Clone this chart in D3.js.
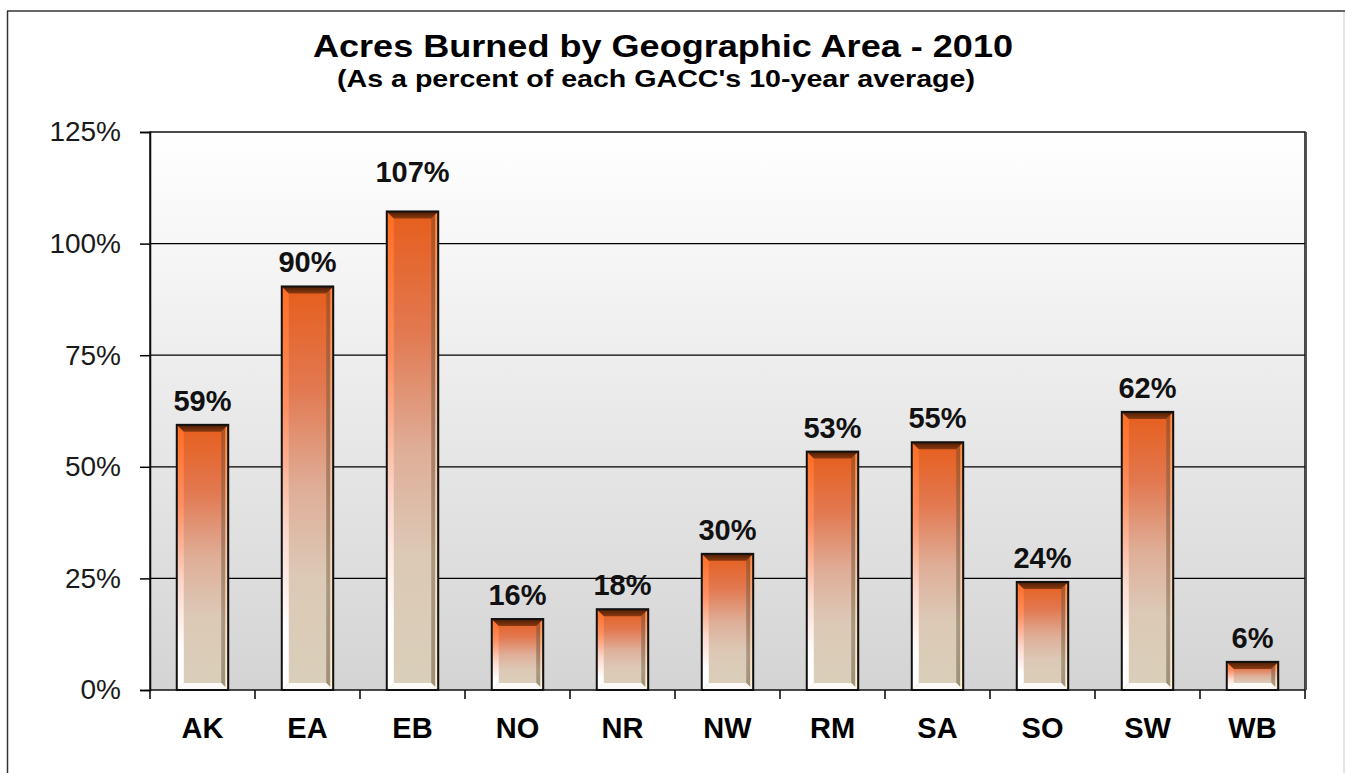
<!DOCTYPE html>
<html><head><meta charset="utf-8">
<script src="https://cdn.jsdelivr.net/npm/d3@7"></script>
<style>
html,body{margin:0;padding:0;background:#fff;}
svg{display:block;}
text{font-family:"Liberation Sans",Arial,sans-serif;}
</style></head>
<body>
<svg id="chart" width="1345" height="773"></svg>
<script>
const categories = ["AK","EA","EB","NO","NR","NW","RM","SA","SO","SW","WB"];
const values = [59.4, 90.4, 107.2, 15.9, 18.1, 30.5, 53.4, 55.5, 24.2, 62.3, 6.3];
const valueLabels = ["59%","90%","107%","16%","18%","30%","53%","55%","24%","62%","6%"];
const yTicks = [0, 25, 50, 75, 100, 125];
const titleText = "Acres Burned by Geographic Area - 2010";
const subtitleText = "(As a percent of each GACC's 10-year average)";

const svg = d3.select("#chart");
const W = 1345, H = 773;
const plot = {left:150, right:1305, top:132, bottom:690};
const FONT = "'Liberation Sans',Arial,sans-serif";

const defs = svg.append("defs");
const bg = defs.append("linearGradient").attr("id","bg").attr("x1",0).attr("y1",0).attr("x2",0).attr("y2",1);
bg.append("stop").attr("offset","0%").attr("stop-color","#ffffff");
bg.append("stop").attr("offset","100%").attr("stop-color","#d4d4d4");

const face = defs.append("linearGradient").attr("id","face").attr("x1",0).attr("y1",0).attr("x2",0).attr("y2",1);
[["0%","#e65e1c"],["25%","#e27850"],["50%","#dfae98"],["72%","#dcc9b6"],["100%","#d9cfba"]]
  .forEach(([o,c])=>face.append("stop").attr("offset",o).attr("stop-color",c));
const leftG = defs.append("linearGradient").attr("id","leftB").attr("x1",0).attr("y1",0).attr("x2",0).attr("y2",1);
[["0%","#ff6d22"],["30%","#ff8e60"],["60%","#fbd8cc"],["85%","#ffffff"],["100%","#ffffff"]]
  .forEach(([o,c])=>leftG.append("stop").attr("offset",o).attr("stop-color",c));
const rightG = defs.append("linearGradient").attr("id","rightB").attr("x1",0).attr("y1",0).attr("x2",0).attr("y2",1);
[["0%","#b0501e"],["40%","#a87860"],["75%","#a89a82"],["100%","#9e9078"]]
  .forEach(([o,c])=>rightG.append("stop").attr("offset",o).attr("stop-color",c));
const edgeG = defs.append("linearGradient").attr("id","edgeB").attr("x1",0).attr("y1",0).attr("x2",0).attr("y2",1);
[["0%","#ff8a40"],["50%","#f8c8a8"],["100%","#fff4d8"]]
  .forEach(([o,c])=>edgeG.append("stop").attr("offset",o).attr("stop-color",c));
const topG = defs.append("linearGradient").attr("id","topB").attr("x1",0).attr("y1",0).attr("x2",0).attr("y2",1);
topG.append("stop").attr("offset","0%").attr("stop-color","#4a1c05");
topG.append("stop").attr("offset","100%").attr("stop-color","#8a3a10");

// outer frame
svg.append("line").attr("x1",7.5).attr("y1",11).attr("x2",7.5).attr("y2",H).attr("stroke","#333").attr("stroke-width",1.5);
svg.append("line").attr("x1",7).attr("y1",11).attr("x2",W).attr("y2",11).attr("stroke","#333").attr("stroke-width",1.5);
svg.append("line").attr("x1",1344).attr("y1",12).attr("x2",1344).attr("y2",H).attr("stroke","#c8c8c8").attr("stroke-width",1);

// title
svg.append("text").attr("x",663).attr("y",57).attr("text-anchor","middle")
  .attr("font-size",32).attr("font-weight","bold").attr("fill","#000")
  .attr("textLength",700).attr("lengthAdjust","spacingAndGlyphs").text(titleText);
svg.append("text").attr("x",656).attr("y",87).attr("text-anchor","middle")
  .attr("font-size",24).attr("font-weight","bold").attr("fill","#000")
  .attr("textLength",638).attr("lengthAdjust","spacingAndGlyphs").text(subtitleText);

const x = d3.scaleBand().domain(categories).range([plot.left, plot.right]).paddingInner(0).paddingOuter(0);
const y = d3.scaleLinear().domain([0,125]).range([plot.bottom, plot.top]);

// background
svg.append("rect").attr("x",plot.left).attr("y",plot.top).attr("width",plot.right-plot.left)
  .attr("height",plot.bottom-plot.top).attr("fill","url(#bg)");

// gridlines
svg.append("g").selectAll("line").data(yTicks.filter(t=>t>0 && t<125)).join("line")
  .attr("x1",plot.left).attr("x2",plot.right).attr("y1",d=>y(d)).attr("y2",d=>y(d))
  .attr("stroke","#000").attr("stroke-width",1.2);

// y axis
const yAxis = svg.append("g").attr("transform",`translate(${plot.left},0)`)
  .call(d3.axisLeft(y).tickValues(yTicks).tickFormat(d=>d+"%").tickSize(10).tickPadding(19));
yAxis.select(".domain").attr("stroke","#000").attr("stroke-width",1.5);
yAxis.selectAll(".tick line").attr("stroke","#000").attr("stroke-width",1.5);
yAxis.selectAll(".tick text").attr("font-size",28).attr("fill","#1a1a1a").attr("font-family",FONT);

// x axis
const xAxis = svg.append("g").attr("transform",`translate(0,${plot.bottom})`)
  .call(d3.axisBottom(x).tickSize(0).tickPadding(27));
xAxis.select(".domain").remove();
xAxis.selectAll(".tick text").attr("font-size",29).attr("font-weight","bold").attr("fill","#000")
  .attr("font-family",FONT);
const bounds = categories.map(c=>x(c)).concat([plot.right]);
svg.append("g").selectAll("line").data(bounds).join("line")
  .attr("x1",d=>d).attr("x2",d=>d).attr("y1",plot.bottom).attr("y2",plot.bottom+9)
  .attr("stroke","#000").attr("stroke-width",1.5);

// bars
const bw = x.bandwidth()*0.49;
const bev = 7;
const bars = svg.append("g").selectAll("g").data(categories.map((c,i)=>({c, v:values[i], l:valueLabels[i]}))).join("g");
bars.each(function(d){
  const g = d3.select(this);
  const x0 = x(d.c) + (x.bandwidth()-bw)/2, x1 = x0 + bw;
  const y0 = y(d.v), y1 = y(0);
  const b = Math.min(bev, (y1-y0)/3);
  g.append("rect").attr("x",x0).attr("y",y0).attr("width",bw).attr("height",y1-y0).attr("fill","url(#face)");
  g.append("polygon").attr("points",[[x0,y0],[x0+bev,y0+b],[x0+bev,y1-b],[x0,y1]].join(" ")).attr("fill","url(#leftB)");
  g.append("polygon").attr("points",[[x1,y0],[x1-bev,y0+b],[x1-bev,y1-b],[x1,y1]].join(" ")).attr("fill","url(#rightB)");
  g.append("rect").attr("x",x1-3).attr("y",y0+2).attr("width",2).attr("height",Math.max(0,y1-y0-4)).attr("fill","url(#edgeB)");
  g.append("polygon").attr("points",[[x0,y0],[x1,y0],[x1-bev,y0+b],[x0+bev,y0+b]].join(" ")).attr("fill","url(#topB)");
  g.append("polygon").attr("points",[[x0,y1],[x1,y1],[x1-bev,y1-b],[x0+bev,y1-b]].join(" ")).attr("fill","#fbfaf7");
  g.append("rect").attr("x",x0).attr("y",y0).attr("width",bw).attr("height",y1-y0)
    .attr("fill","none").attr("stroke","#111").attr("stroke-width",2);
  const lift = d.v > 100 ? 29 : 14;
  g.append("text").attr("x",x(d.c)+x.bandwidth()/2).attr("y",y0-lift).attr("text-anchor","middle")
    .attr("font-size",29).attr("font-weight","bold").attr("fill","#111").text(d.l);
});

// plot border
svg.append("rect").attr("x",plot.left).attr("y",plot.top).attr("width",plot.right-plot.left)
  .attr("height",plot.bottom-plot.top).attr("fill","none").attr("stroke","#111").attr("stroke-width",1.5);
svg.append("line").attr("x1",plot.right+1.5).attr("x2",plot.right+1.5).attr("y1",plot.top).attr("y2",plot.bottom)
  .attr("stroke","#555").attr("stroke-width",1);
</script>
</body></html>
